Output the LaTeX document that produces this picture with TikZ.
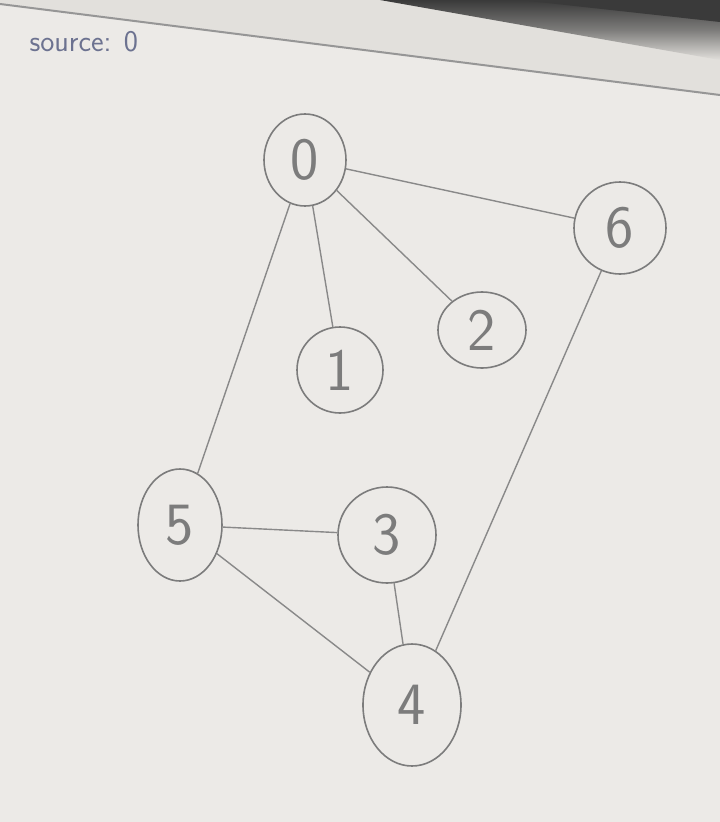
\documentclass[tikz,border=0pt]{standalone}
\usetikzlibrary{shapes.geometric}
\definecolor{board}{HTML}{ECEAE7}
\definecolor{ink}{HTML}{7C7C7C}
\definecolor{blueink}{HTML}{6C7290}
\definecolor{frame}{HTML}{E2E0DC}
\definecolor{darkframe}{HTML}{3A3A3A}
\tikzset{
  vtx/.style={ellipse, draw=ink, line width=1.6pt, text=ink, inner sep=0pt,
    font=\sffamily\fontsize{60}{60}\selectfont},
  edge/.style={draw=ink!90, line width=1.4pt}
}
\begin{document}
\begin{tikzpicture}[x=1pt,y=-1pt]
\useasboundingbox (0,0) rectangle (720,822);
\fill[board] (0,0) rectangle (720,822);
% whiteboard frame at top
\fill[frame] (0,0) -- (720,0) -- (720,95) -- (0,4) -- cycle;
\shade[top color=darkframe, bottom color=frame, middle color=darkframe!60!frame]
  (380,0) -- (720,0) -- (720,60) -- cycle;
\fill[darkframe] (520,0) -- (720,0) -- (720,22) -- cycle;
\draw[ink!80, line width=2pt] (0,4) -- (720,95);
\node[text=blueink, font=\sffamily\fontsize{30}{30}\selectfont, anchor=west] (src) at (26,42) {source: 0};
% vertices
\node[vtx, minimum width=82pt, minimum height=92pt] (n0) at (305,160) {0};
\node[vtx, minimum width=92pt, minimum height=92pt] (n6) at (620,228) {6};
\node[vtx, minimum width=88pt, minimum height=76pt] (n2) at (482,330) {2};
\node[vtx, minimum width=86pt, minimum height=86pt] (n1) at (340,370) {1};
\node[vtx, minimum width=84pt, minimum height=112pt] (n5) at (180,525) {5};
\node[vtx, minimum width=98pt, minimum height=96pt] (n3) at (387,535) {3};
\node[vtx, minimum width=98pt, minimum height=122pt] (n4) at (412,705) {4};
% edges
\draw[edge] (n0) -- (n6);
\draw[edge] (n0) -- (n2);
\draw[edge] (n0) -- (n1);
\draw[edge] (n0) -- (n5);
\draw[edge] (n5) -- (n3);
\draw[edge] (n5) -- (n4);
\draw[edge] (n3) -- (n4);
\draw[edge] (n4) -- (n6);
\end{tikzpicture}
\end{document}
